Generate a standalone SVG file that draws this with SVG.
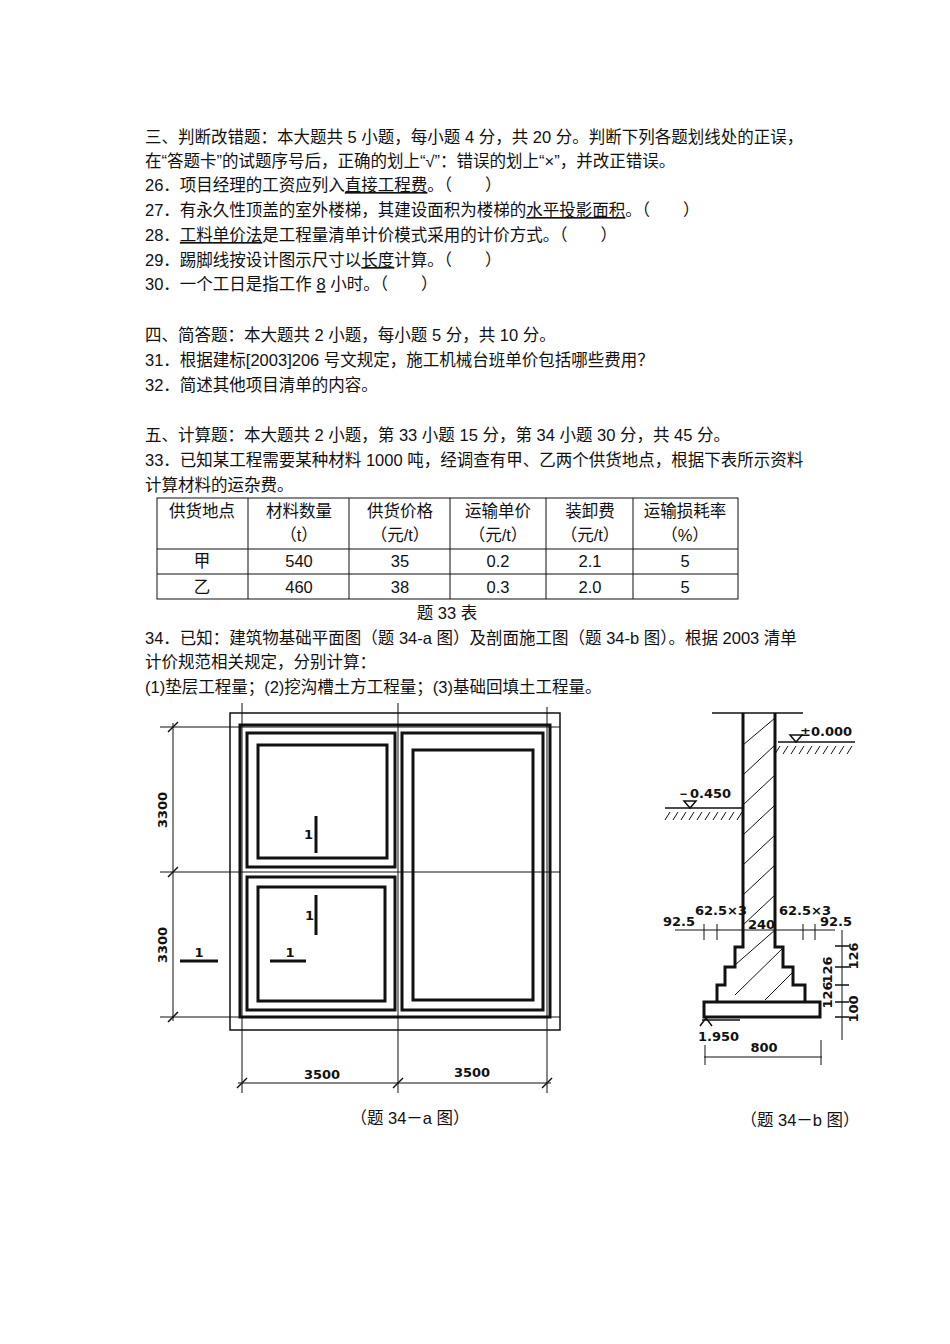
<svg xmlns="http://www.w3.org/2000/svg" width="950" height="1344" viewBox="0 0 950 1344">
<style>
text{font-family:"Liberation Sans","Noto Sans CJK SC",sans-serif;font-size:16.5px;fill:#111}
.c{text-anchor:middle}
.u{text-decoration:underline}
.d{font-family:"DejaVu Sans",sans-serif;font-weight:bold;font-size:13px}
.ln{stroke:#111;fill:none;stroke-width:1.5}
.tk{stroke:#111;fill:none;stroke-width:3}
.th{stroke:#111;fill:none;stroke-width:1}
</style>
<rect width="950" height="1344" fill="#fff"/>
<g id="text">
<text x="145" y="143">三、判断改错题：本大题共 5 小题，每小题 4 分，共 20 分。判断下列各题划线处的正误，</text>
<text x="145" y="167">在“答题卡”的试题序号后，正确的划上“√”：错误的划上“×”，并改正错误。</text>
<text x="145" y="191">26．项目经理的工资应列入<tspan class="u">直接工程费</tspan>。（　　）</text>
<text x="145" y="216">27．有永久性顶盖的室外楼梯，其建设面积为楼梯的<tspan class="u">水平投影面积</tspan>。（　　）</text>
<text x="145" y="241">28．<tspan class="u">工料单价法</tspan>是工程量清单计价模式采用的计价方式。（　　）</text>
<text x="145" y="266">29．踢脚线按设计图示尺寸以<tspan class="u">长度</tspan>计算。（　　）</text>
<text x="145" y="290">30．一个工日是指工作 <tspan class="u">8</tspan> 小时。（　　）</text>
<text x="145" y="341">四、简答题：本大题共 2 小题，每小题 5 分，共 10 分。</text>
<text x="145" y="366">31．根据建标[2003]206 号文规定，施工机械台班单价包括哪些费用？</text>
<text x="145" y="391">32．简述其他项目清单的内容。</text>
<text x="145" y="441">五、计算题：本大题共 2 小题，第 33 小题 15 分，第 34 小题 30 分，共 45 分。</text>
<text x="145" y="466">33．已知某工程需要某种材料 1000 吨，经调查有甲、乙两个供货地点，根据下表所示资料</text>
<text x="145" y="491">计算材料的运杂费。</text>
</g>
<g id="table">
<rect x="157" y="498" width="581" height="101" class="th"/>
<g class="th"><line x1="157" y1="549" x2="738" y2="549"/><line x1="157" y1="574" x2="738" y2="574"/>
<line x1="248" y1="498" x2="248" y2="599"/><line x1="349" y1="498" x2="349" y2="599"/><line x1="450" y1="498" x2="450" y2="599"/><line x1="546" y1="498" x2="546" y2="599"/><line x1="633" y1="498" x2="633" y2="599"/></g>
<text class="c" x="202" y="517">供货地点</text>
<text class="c" x="299" y="517">材料数量</text><text class="c" x="299" y="541">（t）</text>
<text class="c" x="400" y="517">供货价格</text><text class="c" x="400" y="541">（元/t）</text>
<text class="c" x="498" y="517">运输单价</text><text class="c" x="498" y="541">（元/t）</text>
<text class="c" x="590" y="517">装卸费</text><text class="c" x="590" y="541">（元/t）</text>
<text class="c" x="685" y="517">运输损耗率</text><text class="c" x="685" y="541">（%）</text>
<text class="c" x="202" y="567">甲</text><text class="c" x="299" y="567">540</text><text class="c" x="400" y="567">35</text><text class="c" x="498" y="567">0.2</text><text class="c" x="590" y="567">2.1</text><text class="c" x="685" y="567">5</text>
<text class="c" x="202" y="593">乙</text><text class="c" x="299" y="593">460</text><text class="c" x="400" y="593">38</text><text class="c" x="498" y="593">0.3</text><text class="c" x="590" y="593">2.0</text><text class="c" x="685" y="593">5</text>
<text class="c" x="447" y="619">题 33 表</text>
</g>
<g id="text34">
<text x="145" y="644">34．已知：建筑物基础平面图（题 34-a 图）及剖面施工图（题 34-b 图）。根据 2003 清单</text>
<text x="145" y="668">计价规范相关规定，分别计算：</text>
<text x="145" y="693">(1)垫层工程量；(2)挖沟槽土方工程量；(3)基础回填土工程量。</text>
</g>
<g id="plan">
<rect x="230" y="713" width="330" height="317" class="ln"/>
<rect x="240" y="725" width="310" height="292" class="tk"/>
<rect x="247" y="733" width="148" height="134" class="tk"/>
<rect x="258" y="745" width="129" height="113" class="tk"/>
<rect x="247" y="877" width="148" height="133" class="tk"/>
<rect x="258" y="887" width="127" height="114" class="tk"/>
<rect x="402" y="733" width="141" height="277" class="tk"/>
<rect x="413" y="750" width="120" height="250" class="tk"/>
<g class="th">
<line x1="242" y1="703" x2="242" y2="1093"/><line x1="398" y1="703" x2="398" y2="1093"/><line x1="547" y1="707" x2="547" y2="1093"/>
<line x1="160" y1="727" x2="560" y2="727"/><line x1="160" y1="872" x2="560" y2="872"/><line x1="160" y1="1017" x2="560" y2="1017"/>
<line x1="173" y1="723" x2="173" y2="1021"/><line x1="238" y1="1083" x2="551" y2="1083"/>
</g>
<g class="ln"><line x1="168" y1="732" x2="178" y2="722"/><line x1="168" y1="877" x2="178" y2="867"/><line x1="168" y1="1022" x2="178" y2="1012"/>
<line x1="237" y1="1088" x2="247" y2="1078"/><line x1="393" y1="1088" x2="403" y2="1078"/><line x1="542" y1="1088" x2="552" y2="1078"/></g>
<text class="d c" transform="translate(167 810) rotate(-90)">3300</text>
<text class="d c" transform="translate(167 945) rotate(-90)">3300</text>
<text class="d c" x="322" y="1079">3500</text>
<text class="d c" x="472" y="1077">3500</text>
<g class="tk"><line x1="316" y1="816" x2="316" y2="853"/><line x1="316" y1="895" x2="316" y2="935"/><line x1="180" y1="961" x2="218" y2="961"/><line x1="270" y1="961" x2="306" y2="961"/></g>
<text class="d" x="304" y="839">1</text><text class="d" x="305" y="920">1</text>
<text class="d c" x="199" y="957">1</text><text class="d c" x="290" y="957">1</text>
<text class="c" x="410" y="1124">（题 34－a 图）</text>
</g>
<g id="section">
<defs><pattern id="dots" width="6" height="5" patternUnits="userSpaceOnUse"><circle cx="2" cy="2" r="0.9" fill="#111"/><circle cx="5" cy="4" r="0.7" fill="#111"/></pattern></defs>
<line x1="712" y1="713" x2="803" y2="713" class="ln"/>
<line x1="743" y1="713" x2="743" y2="930" class="tk"/>
<line x1="775" y1="713" x2="775" y2="930" class="tk"/>
<path d="M743 930 V947 H735 V967 H725 V985 H717 V1002 M775 930 V947 H783 V967 H793 V985 H805 V1002" class="tk"/>
<g class="th"><line x1="743" y1="745" x2="775" y2="718"/><line x1="743" y1="775" x2="775" y2="745"/><line x1="743" y1="805" x2="775" y2="775"/><line x1="743" y1="835" x2="775" y2="805"/><line x1="743" y1="865" x2="775" y2="835"/><line x1="743" y1="895" x2="775" y2="865"/><line x1="743" y1="925" x2="775" y2="895"/><line x1="735" y1="965" x2="775" y2="930"/><line x1="735" y1="995" x2="783" y2="948"/><line x1="765" y1="1000" x2="793" y2="972"/></g>
<rect x="704" y="1002" width="116" height="15" fill="url(#dots)" class="tk"/>
<line x1="778" y1="742" x2="855" y2="742" class="ln"/>
<path d="M790 735 H802 L796 742 Z" class="ln"/>
<path d="M780 746 l-5 8 M788 746 l-5 8 M796 746 l-5 8 M804 746 l-5 8 M812 746 l-5 8 M820 746 l-5 8 M828 746 l-5 8 M836 746 l-5 8 M844 746 l-5 8 M852 746 l-5 8" class="th"/>
<text class="d" x="800" y="736">±0.000</text>
<line x1="665" y1="808" x2="743" y2="808" class="ln"/>
<path d="M684 801 H696 L690 808 Z" class="ln"/>
<path d="M670 812 l-5 8 M678 812 l-5 8 M686 812 l-5 8 M694 812 l-5 8 M702 812 l-5 8 M710 812 l-5 8 M718 812 l-5 8 M726 812 l-5 8 M734 812 l-5 8 M742 812 l-5 8" class="th"/>
<text class="d" x="677" y="798">－0.450</text>
<line x1="675" y1="930" x2="835" y2="930" class="th"/>
<g class="th"><line x1="704" y1="924" x2="704" y2="940"/><line x1="717" y1="924" x2="717" y2="940"/><line x1="803" y1="924" x2="803" y2="940"/><line x1="815" y1="924" x2="815" y2="940"/></g>
<text class="d" x="663" y="926">92.5</text><text class="d" x="695" y="915">62.5×3</text><text class="d" x="748" y="929">240</text><text class="d" x="779" y="915">62.5×3</text><text class="d" x="820" y="926">92.5</text>
<line x1="702" y1="1020" x2="740" y2="1020" class="ln"/>
<path d="M700 1026 L706 1018 L712 1026" class="ln"/>
<text class="d" x="698" y="1041">1.950</text>
<line x1="704" y1="1057" x2="822" y2="1057" class="th"/>
<line x1="705" y1="1045" x2="705" y2="1065" class="th"/><line x1="821" y1="1040" x2="821" y2="1065" class="th"/>
<text class="d c" x="764" y="1052">800</text>
<line x1="842" y1="930" x2="842" y2="1040" class="th"/>
<g class="ln"><line x1="835" y1="946" x2="849" y2="946"/><line x1="835" y1="967" x2="849" y2="967"/><line x1="835" y1="985" x2="849" y2="985"/><line x1="835" y1="1002" x2="849" y2="1002"/><line x1="835" y1="1017" x2="849" y2="1017"/></g>
<text class="d c" transform="translate(858 956) rotate(-90)">126</text>
<text class="d c" transform="translate(832 970) rotate(-90)">126</text>
<text class="d c" transform="translate(832 995) rotate(-90)">126</text>
<text class="d c" transform="translate(858 1009) rotate(-90)">100</text>
<text class="c" x="800" y="1126">（题 34－b 图）</text>
</g>
</svg>
